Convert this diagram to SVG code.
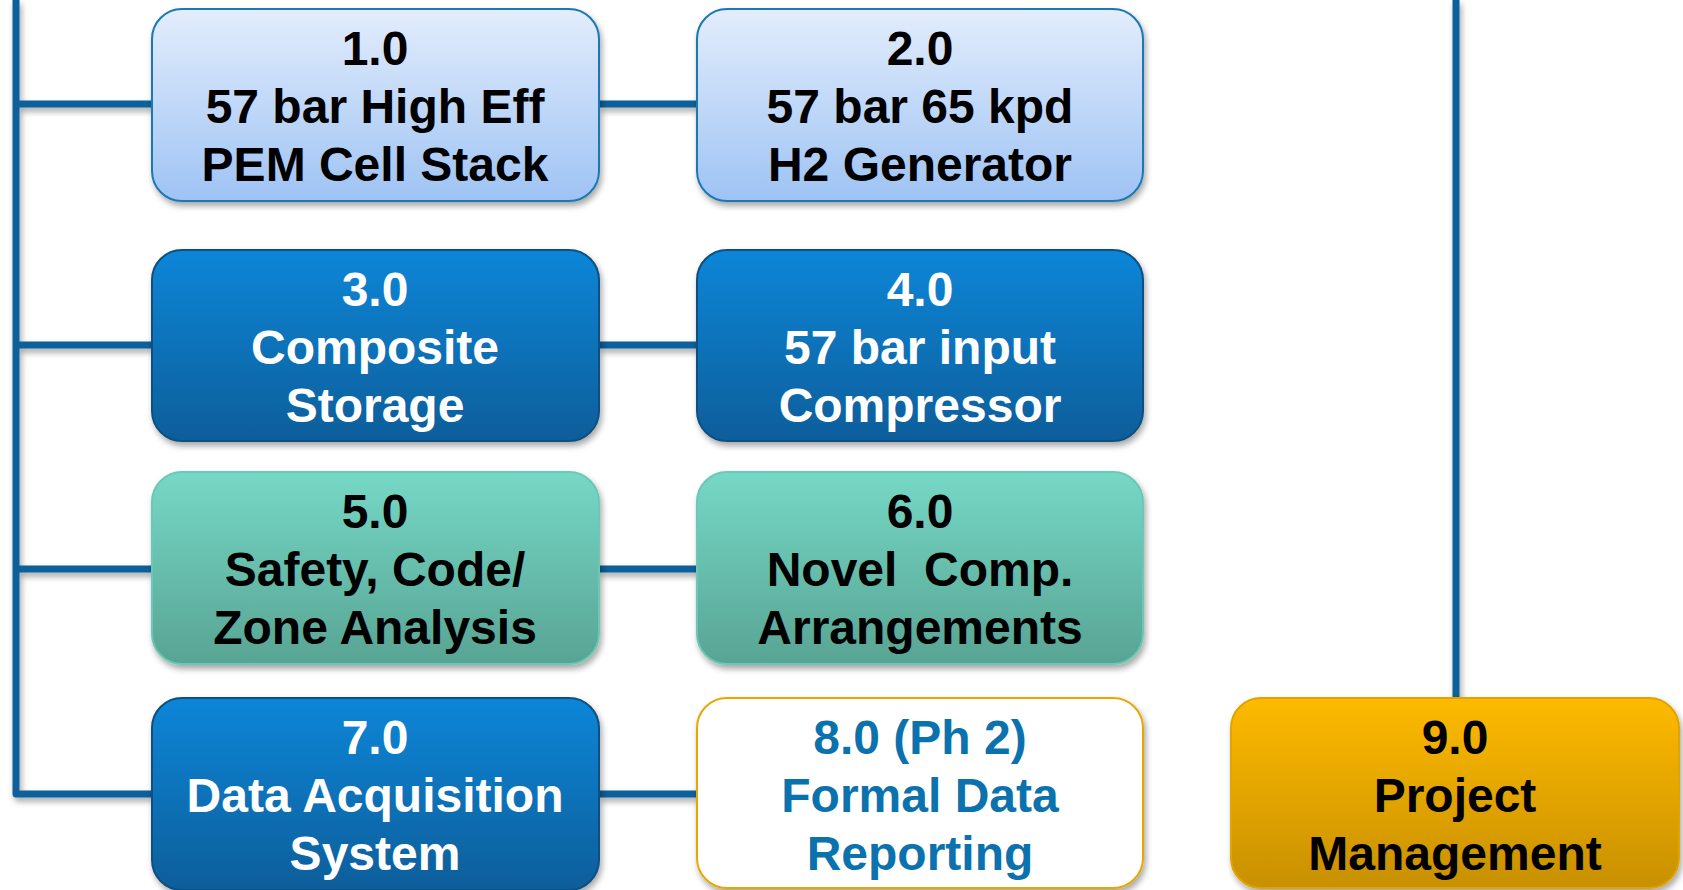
<svg xmlns="http://www.w3.org/2000/svg" width="1683" height="890" viewBox="0 0 1683 890">
<defs>
<linearGradient id="gLight" x1="0" y1="0" x2="0" y2="1"><stop offset="0" stop-color="#e3edfc"/><stop offset="1" stop-color="#9ec3f4"/></linearGradient>
<linearGradient id="gBlue" x1="0" y1="0" x2="0" y2="1"><stop offset="0" stop-color="#0a86d8"/><stop offset="1" stop-color="#0b5e9a"/></linearGradient>
<linearGradient id="gTeal" x1="0" y1="0" x2="0" y2="1"><stop offset="0" stop-color="#76d8c6"/><stop offset="1" stop-color="#58a493"/></linearGradient>
<linearGradient id="gGold" x1="0" y1="0" x2="0" y2="1"><stop offset="0" stop-color="#feba00"/><stop offset="1" stop-color="#c89000"/></linearGradient>
<filter id="sh" x="-10%" y="-10%" width="120%" height="130%"><feDropShadow dx="2" dy="4" stdDeviation="3" flood-color="#000" flood-opacity="0.35"/></filter>
</defs>
<style>
.ln{stroke:#0a6199;stroke-width:7;fill:none;stroke-linejoin:round}
.box{stroke-width:2}
.t{font-family:'Liberation Sans',Arial,Helvetica,sans-serif;font-weight:700;font-size:48px;text-anchor:middle;white-space:pre}
.dk{fill:#000}
.wh{fill:#fff}
.bl{fill:#0b72ad}
</style>
<rect width="1683" height="890" fill="#fff"/>
<g id="connectors" filter="url(#sh)">
<path class="ln" d="M16 0 V794 H152"/>
<path class="ln" d="M16 104 H152 M16 345 H152 M16 569 H152"/>
<path class="ln" d="M599 104 H697 M599 345 H697 M599 569 H697 M599 794 H697"/>
<path class="ln" d="M1456 0 V698"/>
</g>
<g font-family="Liberation Sans, Arial, sans-serif">
<g id="n1"><rect class="box" x="152" y="9" width="447" height="192" rx="30" fill="url(#gLight)" stroke="#1a78b4" filter="url(#sh)"/>
<text class="t dk" x="375" y="65">1.0</text><text class="t dk" x="375" y="123">57 bar High Eff</text><text class="t dk" x="375" y="181">PEM Cell Stack</text></g>
<g id="n2"><rect class="box" x="697" y="9" width="446" height="192" rx="30" fill="url(#gLight)" stroke="#1a78b4" filter="url(#sh)"/>
<text class="t dk" x="920" y="65">2.0</text><text class="t dk" x="920" y="123">57 bar 65 kpd</text><text class="t dk" x="920" y="181">H2 Generator</text></g>
<g id="n3"><rect class="box" x="152" y="250" width="447" height="191" rx="30" fill="url(#gBlue)" stroke="#0a4f80" filter="url(#sh)"/>
<text class="t wh" x="375" y="306">3.0</text><text class="t wh" x="375" y="364">Composite</text><text class="t wh" x="375" y="422">Storage</text></g>
<g id="n4"><rect class="box" x="697" y="250" width="446" height="191" rx="30" fill="url(#gBlue)" stroke="#0a4f80" filter="url(#sh)"/>
<text class="t wh" x="920" y="306">4.0</text><text class="t wh" x="920" y="364">57 bar input</text><text class="t wh" x="920" y="422">Compressor</text></g>
<g id="n5"><rect class="box" x="152" y="472" width="447" height="192" rx="30" fill="url(#gTeal)" stroke="#6cc8b6" filter="url(#sh)"/>
<text class="t dk" x="375" y="528">5.0</text><text class="t dk" x="375" y="586">Safety, Code/</text><text class="t dk" x="375" y="644">Zone Analysis</text></g>
<g id="n6"><rect class="box" x="697" y="472" width="446" height="192" rx="30" fill="url(#gTeal)" stroke="#6cc8b6" filter="url(#sh)"/>
<text class="t dk" x="920" y="528">6.0</text><text class="t dk" x="920" y="586" xml:space="preserve">Novel  Comp.</text><text class="t dk" x="920" y="644">Arrangements</text></g>
<g id="n7"><rect class="box" x="152" y="698" width="447" height="192" rx="30" fill="url(#gBlue)" stroke="#0a4f80" filter="url(#sh)"/>
<text class="t wh" x="375" y="754">7.0</text><text class="t wh" x="375" y="812">Data Acquisition</text><text class="t wh" x="375" y="870">System</text></g>
<g id="n8"><rect class="box" x="697" y="698" width="446" height="190" rx="30" fill="#fff" stroke="#e8a800" filter="url(#sh)"/>
<text class="t bl" x="920" y="754">8.0 (Ph 2)</text><text class="t bl" x="920" y="812">Formal Data</text><text class="t bl" x="920" y="870">Reporting</text></g>
<g id="n9"><rect class="box" x="1231" y="698" width="448" height="190" rx="30" fill="url(#gGold)" stroke="#e0a400" filter="url(#sh)"/>
<text class="t dk" x="1455" y="754">9.0</text><text class="t dk" x="1455" y="812">Project</text><text class="t dk" x="1455" y="870">Management</text></g>
</g>
</svg>
